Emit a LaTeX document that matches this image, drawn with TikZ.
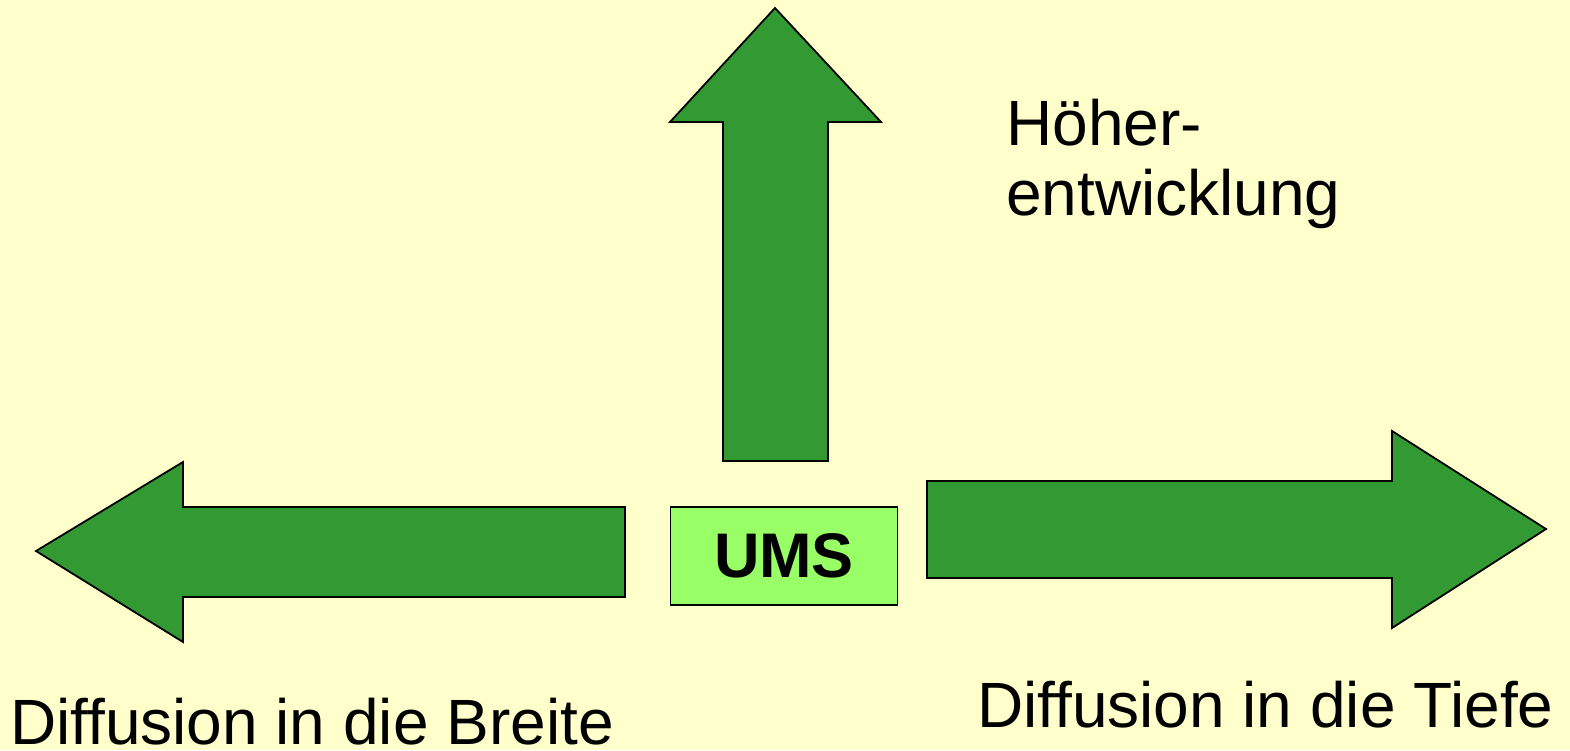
\documentclass[tikz,border=0pt]{standalone}
\usepackage{fontspec}
\setmainfont{Liberation Sans}
\usepackage{tikz}
\usetikzlibrary{positioning}
\definecolor{bgy}{RGB}{255,255,204}
\definecolor{darkg}{RGB}{51,153,51}
\definecolor{lightg}{RGB}{153,255,102}

\begin{document}
\begin{tikzpicture}[x=1pt, y=-1pt,
            ar/.style={fill=darkg, draw=black, line width=1.8pt, line join=miter},
            lb/.style={anchor=base west, inner sep=0pt, font=\fontsize{64}{70}\selectfont},
            bx/.style={fill=lightg, draw=black, line width=1.8pt, minimum width=227pt,
              minimum height=98pt, inner sep=0pt, font=\fontsize{63}{70}\selectfont\bfseries}]
          \fill[bgy] (0,0) rectangle (1570,750);
          \useasboundingbox (0,0) rectangle (1570,750);
          % arrows
          \draw[ar] (775,8) -- (881,122) -- (828,122) -- (828,461) -- (723,461)
            -- (723,122) -- (670,122) -- cycle;
          \draw[ar] (36,551) -- (183,462) -- (183,507) -- (625,507) -- (625,597)
            -- (183,597) -- (183,642) -- cycle;
          \draw[ar] (1546,529) -- (1392,431) -- (1392,481) -- (927,481) -- (927,578)
            -- (1392,578) -- (1392,628) -- cycle;
          % box and labels
          \node[bx] (ums) at (784,556) {UMS};
          \node[lb] (hoeher) at (1006,145) {Höher-};
          \node[lb] (entw) at (1006,215) {entwicklung};
          \node[lb] (breite) at (10,744) {Diffusion in die Breite};
          \node[lb] (tiefe) at (977,727) {Diffusion in die Tiefe};
        \end{tikzpicture}
\end{document}
